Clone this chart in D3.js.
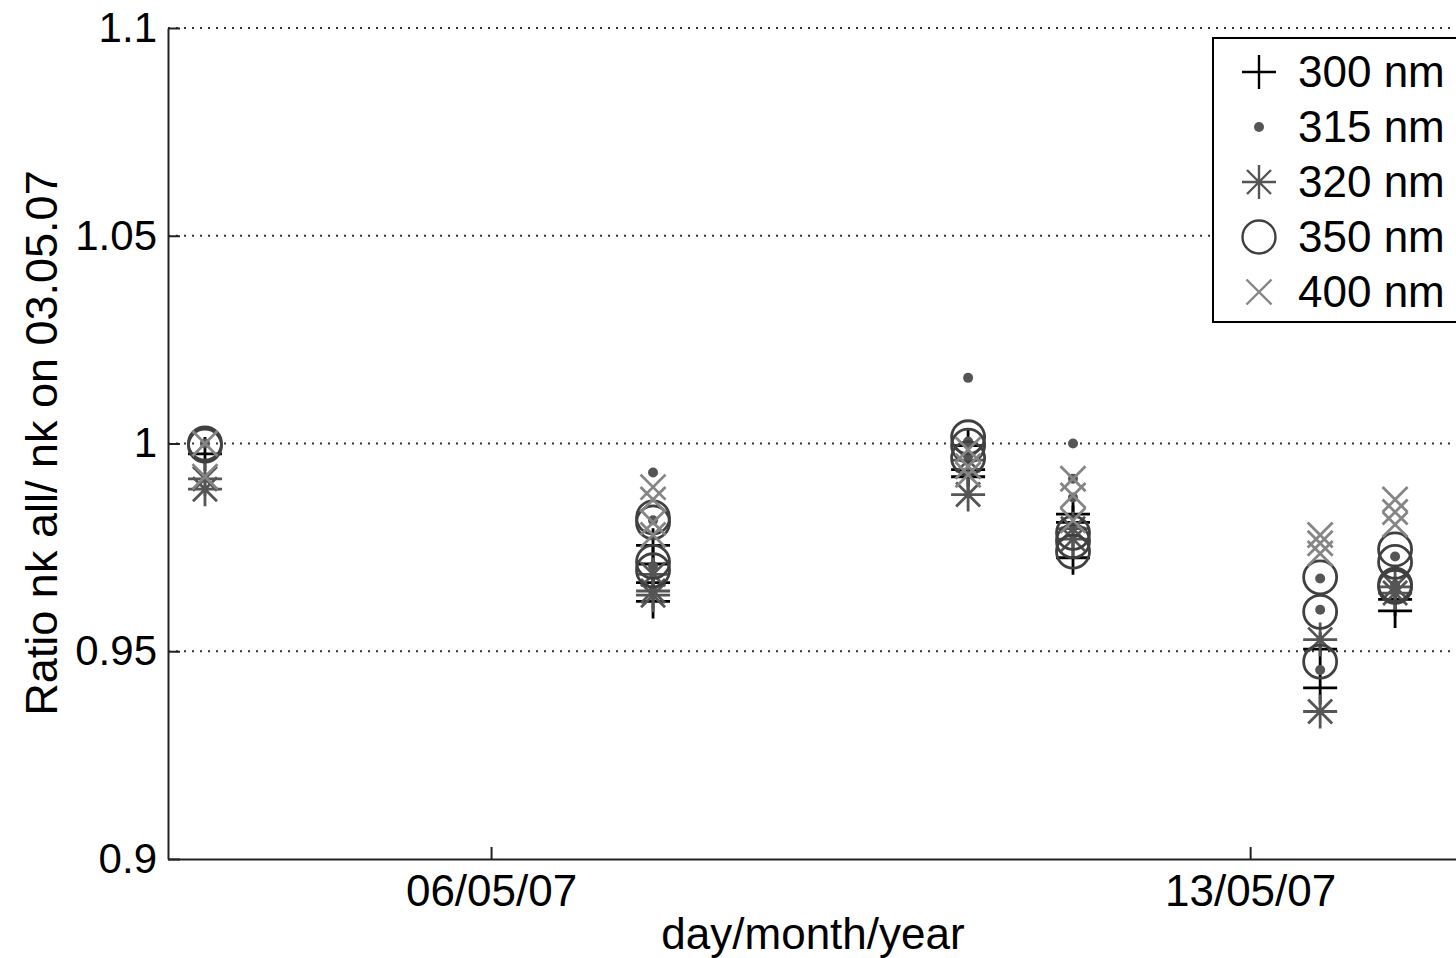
<!DOCTYPE html>
<html><head><meta charset="utf-8">
<script src="https://cdn.jsdelivr.net/npm/d3@7/dist/d3.min.js"></script>
<style>
html,body{margin:0;padding:0;background:#fff;overflow:hidden;}
svg{display:block;font-family:"Liberation Sans",Arial,sans-serif;}
</style></head>
<body>
<svg id="c" width="1456" height="958"></svg>
<script>
// ---- data ----
const groupDates = ["2007-05-03T08:41","2007-05-07T11:51","2007-05-10T09:35","2007-05-11T08:48","2007-05-13T15:30","2007-05-14T08:05"];
const yTicks = [0.9, 0.95, 1, 1.05, 1.1];
const yTickLabels = ["0.9","0.95","1","1.05","1.1"];
const xTickDates = ["2007-05-06T00:00","2007-05-13T00:00"];
const xTickLabels = ["06/05/07","13/05/07"];
const seriesNames = ["300 nm","315 nm","320 nm","350 nm","400 nm"];
// each entry: [group index, ratio]
const w300 = [[0,0.9975],[1,0.9755],[1,0.971],[1,0.9665],[1,0.962],[2,0.9995],[2,0.9937],[2,0.992],[3,0.983],[3,0.981],[3,0.9725],[4,0.9505],[4,0.9412],[5,0.9625],[5,0.9597]];
const w315 = [[0,1.0],[1,0.993],[1,0.9815],[1,0.9705],[2,1.0158],[2,1.0005],[2,0.997],[3,1.0],[3,0.9915],[3,0.987],[4,0.9675],[4,0.96],[4,0.9455],[5,0.9728],[5,0.966]];
const w320 = [[0,0.9915],[0,0.989],[1,0.9685],[1,0.9645],[1,0.9635],[2,0.9877],[2,0.996],[3,0.9795],[3,0.977],[4,0.9528],[4,0.9355],[5,0.9655],[5,0.964]];
const w350 = [[0,1.0],[0,0.9995],[1,0.9822],[1,0.981],[1,0.9715],[1,0.9695],[2,1.0015],[2,0.9995],[2,0.9965],[3,0.9785],[3,0.9765],[3,0.974],[4,0.9678],[4,0.9595],[4,0.9475],[5,0.9745],[5,0.9715],[5,0.966],[5,0.9655]];
const w400 = [[0,1.0],[0,0.992],[1,0.9895],[1,0.9865],[1,0.981],[1,0.978],[2,0.9985],[2,0.9945],[2,0.9925],[3,0.9915],[3,0.9875],[3,0.9815],[4,0.978],[4,0.976],[4,0.9735],[5,0.9865],[5,0.9835],[5,0.9805]];

// ---- style ----
const parse = d3.isoParse;
const svg = d3.select("#c");
const L = 168, T = 28, B = 859;
const x = d3.scaleTime().domain([new Date(2007,4,3,0,30), new Date(2007,4,15,0,0)]).range([L, 1467]);
const y = d3.scaleLinear().domain([0.9, 1.1]).range([B, T]);
const FS = 44;
const FONT = '"Liberation Sans",Arial,sans-serif';

// grid
svg.append("g").selectAll("line").data(yTicks.slice(1)).join("line")
  .attr("x1", L).attr("x2", 1467).attr("y1", d => y(d)).attr("y2", d => y(d))
  .attr("stroke", "#333").attr("stroke-width", 2).attr("stroke-dasharray", "2 6");

// axes
const yAxis = d3.axisLeft(y).tickValues(yTicks).tickFormat((d,i) => yTickLabels[i])
  .tickSizeInner(-12).tickSizeOuter(0).tickPadding(11);
const gy = svg.append("g").attr("transform", `translate(${L},0)`).call(yAxis);
const xAxis = d3.axisBottom(x).tickValues(xTickDates.map(parse)).tickFormat((d,i) => xTickLabels[i])
  .tickSizeInner(-12).tickSizeOuter(0).tickPadding(16);
const gx = svg.append("g").attr("transform", `translate(0,${B})`).call(xAxis);
[gx, gy].forEach(g => {
  g.select(".domain").attr("stroke", "#222").attr("stroke-width", 2);
  g.selectAll(".tick line").attr("stroke", "#222").attr("stroke-width", 2);
  g.selectAll("text").attr("fill", "#000").attr("font-family", FONT);
});
gx.selectAll("text").attr("font-size", FS);
gy.selectAll("text").attr("font-size", 42);

// axis titles
svg.append("text").attr("x", 813).attr("y", 949).attr("text-anchor", "middle")
  .attr("font-size", FS).text("day/month/year");
svg.append("text").attr("transform", "translate(57,443) rotate(-90)").attr("text-anchor", "middle")
  .attr("font-size", 45).text("Ratio nk all/ nk on 03.05.07");

// markers
const markerDef = [
  {col:"#000", draw:(g)=>{g.append("path").attr("d","M-17,0H17M0,-17V17").attr("fill","none");}},
  {col:"#555", draw:(g)=>{g.append("circle").attr("r",5).attr("stroke","none").attr("fill","#555");}},
  {col:"#555", draw:(g)=>{g.append("path").attr("d","M-17,0H17M0,-17V17M-12,-12L12,12M-12,12L12,-12").attr("fill","none");}},
  {col:"#404040", draw:(g)=>{g.append("circle").attr("r",16.5).attr("fill","none");}},
  {col:"#858585", draw:(g)=>{g.append("path").attr("d","M-12.5,-12.5L12.5,12.5M-12.5,12.5L12.5,-12.5").attr("fill","none");}}
];
const seriesData = [w300, w315, w320, w350, w400];
const plot = svg.append("g");
seriesData.forEach((arr, si) => {
  const m = markerDef[si];
  plot.append("g").selectAll("g").data(arr).join("g")
    .attr("transform", d => `translate(${x(parse(groupDates[d[0]]))},${y(d[1])})`)
    .attr("stroke", m.col).attr("stroke-width", 2.8)
    .each(function(){ m.draw(d3.select(this)); });
});

// legend
const lg = svg.append("g");
lg.append("rect").attr("x", 1213).attr("y", 38).attr("width", 260).attr("height", 284)
  .attr("fill", "#fff").attr("stroke", "#000").attr("stroke-width", 2);
seriesNames.forEach((name, i) => {
  const cy = 72 + i * 55;
  const g = lg.append("g").attr("transform", `translate(1259,${cy})`)
    .attr("stroke", markerDef[i].col).attr("stroke-width", 2.4);
  markerDef[i].draw(g);
  lg.append("text").attr("x", 1298).attr("y", cy).attr("dy", "0.35em")
    .attr("font-size", FS).attr("fill", "#000").text(name);
});
</script>
</body></html>
